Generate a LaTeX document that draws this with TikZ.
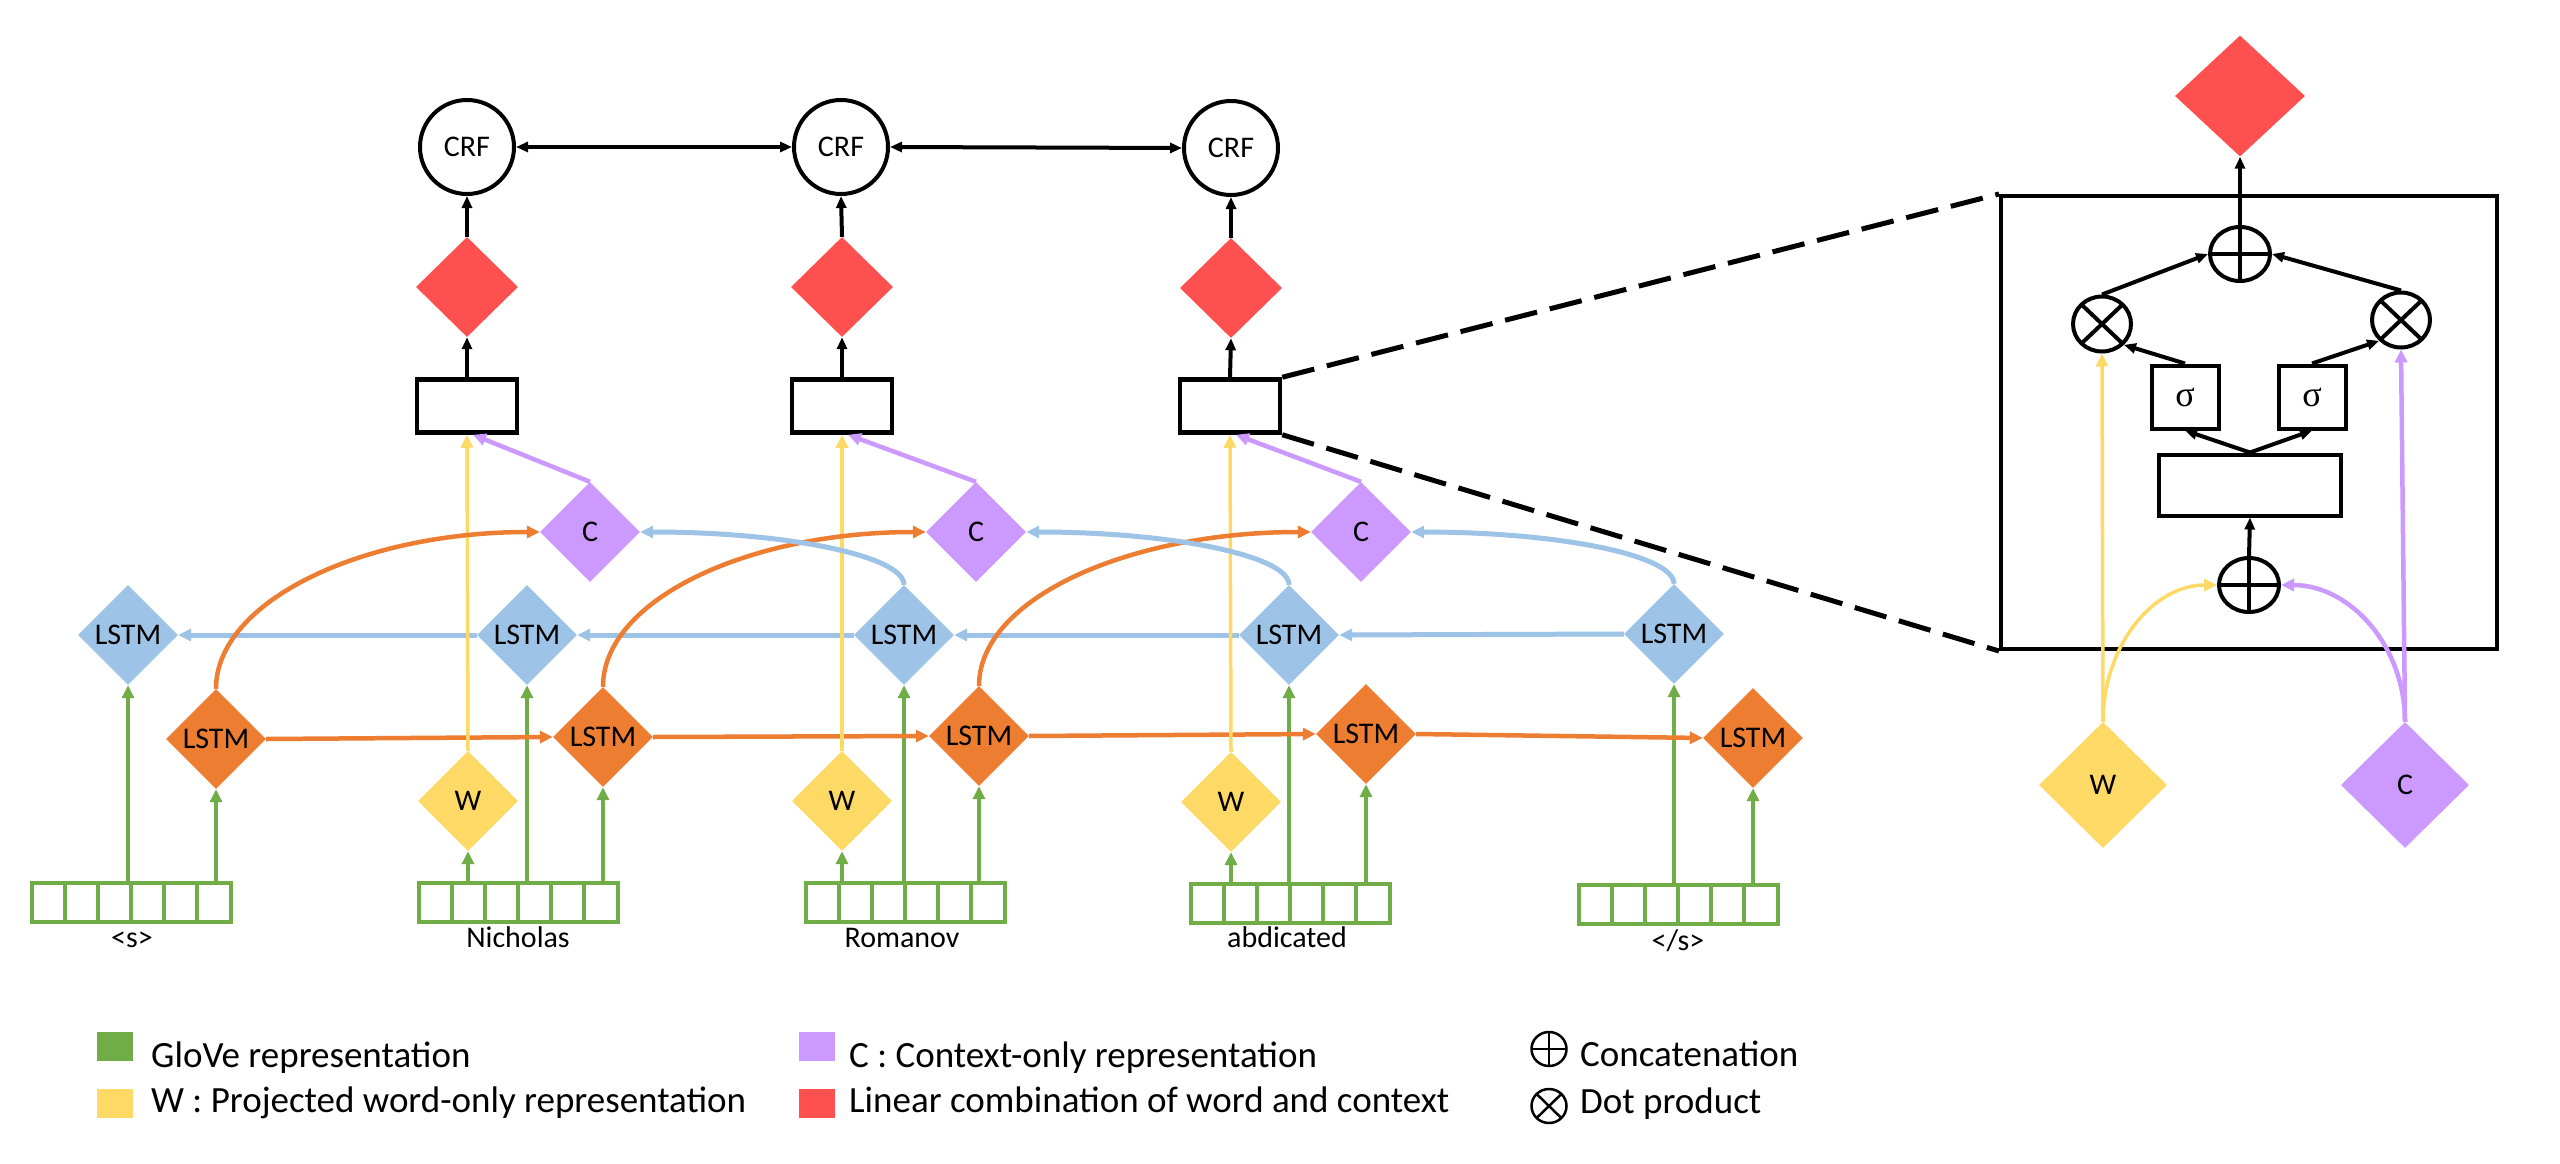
\documentclass[tikz,border=0pt]{standalone}
\usepackage{fontspec}
\setmainfont{Carlito}
\newfontfamily\greekfont{Liberation Serif}
\usetikzlibrary{shapes.geometric,arrows.meta,calc}

\definecolor{cgreen}{HTML}{70AD47}
\definecolor{cyellow}{HTML}{FFD966}
\definecolor{corange}{HTML}{ED7D31}
\definecolor{cblue}{HTML}{9DC3E6}
\definecolor{cpurple}{HTML}{CC99FF}
\definecolor{cred}{HTML}{FF5050}

\begin{document}
\begin{tikzpicture}[x=1pt,y=-1pt,
  font=\fontsize{30}{36}\selectfont,
  dia/.style={diamond, aspect=1, inner sep=0pt, minimum width=100pt, minimum height=100pt},
  bluel/.style={dia, fill=cblue},
  orangel/.style={dia, fill=corange},
  purplel/.style={dia, fill=cpurple},
  yellowl/.style={dia, fill=cyellow},
  redl/.style={dia, fill=cred, minimum width=102pt},
  crf/.style={circle, draw, line width=4pt, minimum size=94pt, inner sep=0pt},
  gbox/.style={rectangle, draw, line width=4.5pt, minimum width=100pt, minimum height=53pt, inner sep=0pt},
  vec/.style={rectangle, draw=cgreen, line width=4pt, minimum width=199pt, minimum height=39pt, inner sep=0pt,
    path picture={\foreach \k in {1,...,5}{\draw[cgreen, line width=4pt]
      ($(path picture bounding box.north west)!\k/6!(path picture bounding box.north east)$) --
      ($(path picture bounding box.south west)!\k/6!(path picture bounding box.south east)$);}}},
  oplusn/.style={ellipse, draw, line width=4pt, minimum width=60pt, minimum height=54pt, inner sep=0pt,
    path picture={\draw[line width=4pt] (path picture bounding box.north) -- (path picture bounding box.south)
      (path picture bounding box.west) -- (path picture bounding box.east);}},
  otimesn/.style={ellipse, draw, line width=4pt, minimum width=58pt, minimum height=55pt, inner sep=0pt,
    path picture={\draw[line width=4pt] (path picture bounding box.north west) -- (path picture bounding box.south east)
      (path picture bounding box.north east) -- (path picture bounding box.south west);}},
  loplus/.style={oplusn, line width=2.5pt, minimum width=35pt, minimum height=34pt,
    path picture={\draw[line width=2.5pt] (path picture bounding box.north) -- (path picture bounding box.south)
      (path picture bounding box.west) -- (path picture bounding box.east);}},
  lotimes/.style={otimesn, line width=2.5pt, minimum width=35pt, minimum height=34pt,
    path picture={\draw[line width=2.5pt] (path picture bounding box.north west) -- (path picture bounding box.south east)
      (path picture bounding box.north east) -- (path picture bounding box.south west);}},
  sbox/.style={rectangle, draw, line width=4pt, minimum width=67pt, minimum height=63pt, inner sep=0pt,
    font=\greekfont\fontsize{36}{40}\selectfont},
  tip/.style={-{Triangle[length=13pt,width=12pt]}},
  ktip/.style={-{Triangle[length=12pt,width=10pt]}},
  garrow/.style={tip, draw=cgreen, line width=4pt},
  yarrow/.style={tip, draw=cyellow, line width=3.5pt},
  parrow/.style={tip, draw=cpurple, line width=4.5pt},
  oarrow/.style={tip, draw=corange, line width=4.5pt},
  barrow/.style={tip, draw=cblue, line width=5pt},
  karrow/.style={ktip, draw=black, line width=4pt},
  lsq/.style={rectangle, minimum width=36pt, minimum height=29pt, inner sep=0pt},
  legtext/.style={anchor=base west, inner sep=0pt, font=\fontsize{37}{42}\selectfont},
  wlabel/.style={anchor=base, inner sep=0pt}
]
\fill[white] (0,0) rectangle (2560,1164);
\useasboundingbox (0,0) rectangle (2560,1164);

% ---------- main network ----------
\node[crf] (crf1) at (467,147) {CRF};
\node[crf] (crf2) at (841,147) {CRF};
\node[crf] (crf3) at (1231,148) {CRF};
\node[redl] (r1) at (467,287) {};
\node[redl] (r2) at (842,287) {};
\node[redl] (r3) at (1231,288) {};
\node[gbox] (g1) at (467,406) {};
\node[gbox] (g2) at (842,406) {};
\node[gbox] (g3) at (1230,406) {};
\node[purplel] (c1) at (590,532) {C};
\node[purplel] (c2) at (976,532) {C};
\node[purplel] (c3) at (1361,532) {C};
\node[bluel] (b1) at (128,635) {LSTM};
\node[bluel] (b2) at (527,635) {LSTM};
\node[bluel] (b3) at (904,635) {LSTM};
\node[bluel] (b4) at (1289,635) {LSTM};
\node[bluel] (b5) at (1674,634) {LSTM};
\node[orangel] (o1) at (216,739) {LSTM};
\node[orangel] (o2) at (603,737) {LSTM};
\node[orangel] (o3) at (979,736) {LSTM};
\node[orangel] (o4) at (1366,734) {LSTM};
\node[orangel] (o5) at (1753,738) {LSTM};
\node[yellowl] (w1) at (468,801) {W};
\node[yellowl] (w2) at (842,801) {W};
\node[yellowl] (w3) at (1231,802) {W};
\node[vec] (v1) at (131,902) {};
\node[vec] (v2) at (518,902) {};
\node[vec] (v3) at (905,902) {};
\node[vec] (v4) at (1290,903) {};
\node[vec] (v5) at (1678,904) {};
\node[wlabel] (t1) at (132,947) {<s>};
\node[wlabel] (t2) at (518,947) {Nicholas};
\node[wlabel] (t3) at (902,947) {Romanov};
\node[wlabel] (t4) at (1287,947) {abdicated};
\node[wlabel] (t5) at (1678,950) {</s>};

% green inputs
\draw[garrow] (v1.north -| b1) -- (b1.south);
\draw[garrow] (v1.north -| o1) -- (o1.south);
\draw[garrow] (v2.north -| w1) -- (w1.south);
\draw[garrow] (v2.north -| b2) -- (b2.south);
\draw[garrow] (v2.north -| o2) -- (o2.south);
\draw[garrow] (v3.north -| w2) -- (w2.south);
\draw[garrow] (v3.north -| b3) -- (b3.south);
\draw[garrow] (v3.north -| o3) -- (o3.south);
\draw[garrow] (v4.north -| w3) -- (w3.south);
\draw[garrow] (v4.north -| b4) -- (b4.south);
\draw[garrow] (v4.north -| o4) -- (o4.south);
\draw[garrow] (v5.north -| b5) -- (b5.south);
\draw[garrow] (v5.north -| o5) -- (o5.south);

% recurrent connections
\draw[barrow] (b5.west) -- (b4.east);
\draw[barrow] (b4.west) -- (b3.east);
\draw[barrow] (b3.west) -- (b2.east);
\draw[barrow] (b2.west) -- (b1.east);
\draw[oarrow] (o1.east) -- (o2.west);
\draw[oarrow] (o2.east) -- (o3.west);
\draw[oarrow] (o3.east) -- (o4.west);
\draw[oarrow] (o4.east) -- (o5.west);

% word and context into gates
\draw[yarrow] (w1.north) -- (g1.south);
\draw[yarrow] (w2.north) -- (g2.south);
\draw[yarrow] (w3.north) -- (g3.south);
\draw[parrow] (c1.north) -- ([xshift=6pt]g1.south);
\draw[parrow] (c2.north) -- ([xshift=6pt]g2.south);
\draw[parrow] (c3.north) -- ([xshift=6pt]g3.south);

% curves into context
\draw[oarrow] (o1.north) .. controls +(0,-87) and +(-179,0) .. (c1.west);
\draw[oarrow] (o2.north) .. controls +(0,-87) and +(-178,0) .. (c2.west);
\draw[oarrow] (o3.north) .. controls +(0,-87) and +(-183,0) .. (c3.west);
\draw[barrow] (b3.north) .. controls +(0,-29) and +(146,0) .. (c1.east);
\draw[barrow] (b4.north) .. controls +(0,-29) and +(146,0) .. (c2.east);
\draw[barrow] (b5.north) .. controls +(0,-29) and +(146,0) .. (c3.east);

% black
\draw[karrow] (g1.north) -- (r1.south);
\draw[karrow] (g2.north) -- (r2.south);
\draw[karrow] (g3.north) -- (r3.south);
\draw[karrow] (r1.north) -- (crf1.south);
\draw[karrow] (r2.north) -- (crf2.south);
\draw[karrow] (r3.north) -- (crf3.south);
\draw[karrow, {Triangle[length=12pt,width=10pt]}-{Triangle[length=12pt,width=10pt]}] (crf1.east) -- (crf2.west);
\draw[karrow, {Triangle[length=12pt,width=10pt]}-{Triangle[length=12pt,width=10pt]}] (crf2.east) -- (crf3.west);

% ---------- zoomed gate ----------
\node[redl, minimum width=130pt, minimum height=121pt] (R) at (2240,96) {};
\node[draw, line width=4pt, minimum width=496pt, minimum height=453pt, inner sep=0pt] (panel) at (2249,422.5) {};
\node[oplusn] (pt) at (2240,254) {};
\node[otimesn] (xl) at (2102,324) {};
\node[otimesn] (xr) at (2401,320) {};
\node[sbox] (sl) at (2185,397) {σ};
\node[sbox] (sr) at (2312,397) {σ};
\node[draw, line width=4pt, minimum width=182pt, minimum height=61pt, inner sep=0pt] (wide) at (2250,485) {};
\node[oplusn] (pb) at (2249,585) {};
\node[yellowl, minimum width=128pt, minimum height=126pt] (W) at (2103,785) {W};
\node[purplel, minimum width=128pt, minimum height=126pt] (C) at (2405,785) {C};

\draw[dash pattern=on 33pt off 13pt, line width=5pt] (g3.north east) -- (panel.north west);
\draw[dash pattern=on 33pt off 13pt, line width=5pt] (g3.south east) -- (panel.south west);

\draw[yarrow] (W.north) -- (xl.south);
\draw[parrow] (C.north) -- (xr.south);
\draw[yarrow] (W.north) .. controls +(0,-76) and +(-64,0) .. (pb.west);
\draw[parrow] (C.north) .. controls +(0,-76) and +(69,0) .. (pb.east);
\draw[karrow] (pb.north) -- (wide.south);
\draw[karrow] (wide.north) -- (sl.south);
\draw[karrow] (wide.north) -- (sr.south);
\draw[karrow] (sl.north) -- (xl.south east);
\draw[karrow] (sr.north) -- (xr.south west);
\draw[karrow] (xl.north) -- (pt.west);
\draw[karrow] (xr.north) -- (pt.east);
\draw[karrow] (pt.north) -- (R.south);

% ---------- legend ----------
\node[lsq, fill=cgreen] (k1) at (115,1046.5) {};
\node[lsq, fill=cyellow] (k2) at (115,1103) {};
\node[lsq, fill=cpurple] (k3) at (816.5,1046.5) {};
\node[lsq, fill=cred] (k4) at (816.5,1103) {};
\node[legtext] (kt1) at (151,1067) {GloVe representation};
\node[legtext] (kt2) at (151,1112) {W : Projected word-only representation};
\node[legtext] (kt3) at (849,1067) {C : Context-only representation};
\node[legtext] (kt4) at (849,1112) {Linear combination of word and context};
\node[loplus] (k5) at (1549,1049) {};
\node[lotimes] (k6) at (1549,1106) {};
\node[legtext] (kt5) at (1580,1066) {Concatenation};
\node[legtext] (kt6) at (1580,1113) {Dot product};
\end{tikzpicture}
\end{document}
